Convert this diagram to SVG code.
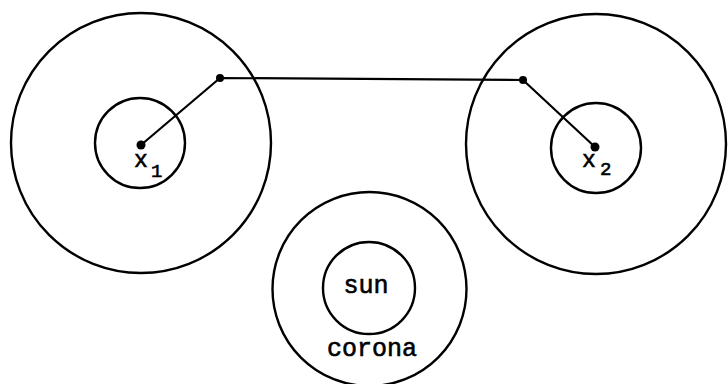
<svg xmlns="http://www.w3.org/2000/svg" width="728" height="384" viewBox="0 0 728 384">
<style>
.ring{fill:none;stroke:#000;stroke-width:2.4}
.lnk{fill:none;stroke:#000;stroke-width:2.2;stroke-linejoin:round}
.dot{fill:#000}
.t{font-family:"Liberation Mono","DejaVu Sans Mono",monospace;fill:#000;stroke:#000;stroke-width:0.6}
</style>
<rect width="728" height="384" fill="#fff"/>
<g id="x1-node">
<circle class="ring" cx="141" cy="143" r="130"/>
<circle class="ring" cx="140" cy="143" r="45"/>
<circle class="dot" cx="141" cy="145" r="4.5"/>
<text class="t" x="134" y="167" font-size="23">x</text>
<text class="t" x="151" y="177" font-size="19">1</text>
</g>
<g id="x2-node">
<circle class="ring" cx="596" cy="144" r="130"/>
<circle class="ring" cx="596" cy="148" r="45"/>
<circle class="dot" cx="595" cy="147" r="4.5"/>
<text class="t" x="582" y="167" font-size="23">x</text>
<text class="t" x="600" y="175" font-size="19">2</text>
</g>
<g id="sun-node">
<circle class="ring" cx="369.5" cy="289" r="97"/>
<circle class="ring" cx="369" cy="288" r="46"/>
<text class="t" x="366" y="293" font-size="25" text-anchor="middle">sun</text>
<text class="t" x="372" y="356" font-size="25" text-anchor="middle">corona</text>
</g>
<g id="connectors">
<polyline class="lnk" points="141,145 220,78 523,80 595,147"/>
<circle class="dot" cx="220" cy="78" r="4"/>
<circle class="dot" cx="523" cy="80" r="4"/>
</g>
</svg>
